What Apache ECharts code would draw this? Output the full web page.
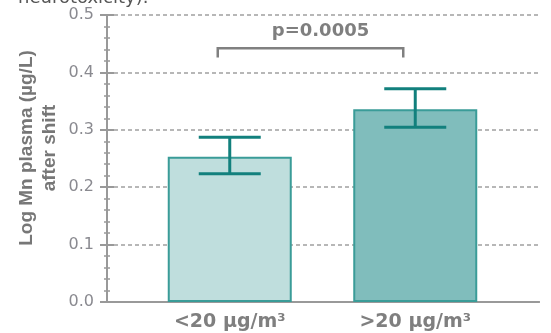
<!DOCTYPE html>
<html>
<head>
<meta charset="utf-8">
<script src="https://cdn.jsdelivr.net/npm/echarts@6/dist/echarts.min.js"></script>
<style>html,body{margin:0;padding:0;background:#fff;}#c{width:551px;height:333px;}</style>
</head>
<body>
<div id="c"></div>
<script>
var categories = ['<20 µg/m³', '>20 µg/m³'];
var means = [0.253, 0.336];
var errLow = [0.2235, 0.3045];
var errHigh = [0.287, 0.3715];
var barColors = ['#bfdedd', '#80bdbc'];
var yTicks = [0, 0.1, 0.2, 0.3, 0.4, 0.5];
var pText = 'p=0.0005';
var bracket = [0, 1, 0.442, 0.426]; // from cat, to cat, top value, leg end value
var pLabelValue = 0.472;
var yName = 'Log Mn plasma (µg/L)\nafter shift';
var topText = 'neurotoxicity).';

var chart = echarts.init(document.getElementById('c'), null, {renderer: 'canvas'});
var axisGray = '#999999';
var yMin = yTicks[0], yMax = yTicks[yTicks.length - 1];

var option = {
  animation: false,
  backgroundColor: '#ffffff',
  grid: [
    {left: 107, right: 12, top: 15, bottom: 31},
    {left: 137, right: 43, top: 15, bottom: 31}
  ],
  xAxis: [
    {gridIndex: 0, type: 'value', position: 'bottom', min: 0, max: 1,
      axisLine: {show: true, lineStyle: {color: axisGray, width: 2}},
      axisTick: {show: false}, axisLabel: {show: false}, splitLine: {show: false}},
    {gridIndex: 0, type: 'value', position: 'top', min: 0, max: 1,
      axisLine: {show: true, lineStyle: {color: axisGray, width: 2}},
      axisTick: {show: false}, axisLabel: {show: false}, splitLine: {show: false}},
    {gridIndex: 1, type: 'category', data: categories, position: 'bottom',
      axisLine: {show: false}, axisTick: {show: false},
      axisLabel: {show: true, margin: 11, color: '#7f7f7f', fontFamily: 'DejaVu Sans', fontWeight: 'bold', fontSize: 19}}
  ],
  yAxis: [
    {gridIndex: 0, type: 'value', position: 'left', min: yMin, max: yMax, interval: 0.1,
      axisLine: {show: true, lineStyle: {color: axisGray, width: 2}},
      axisTick: {show: true, length: 7, lineStyle: {color: axisGray, width: 2}},
      minorTick: {show: true, splitNumber: 5, length: 3, lineStyle: {color: axisGray, width: 1.5}},
      axisLabel: {margin: 13, color: '#8a8a90', fontFamily: 'DejaVu Sans', fontSize: 16,
        formatter: function (v) { return v.toFixed(1); }},
      splitLine: {show: true, lineStyle: {color: '#a0a0a0', type: [4, 3], width: 1.5}}},
    {gridIndex: 0, type: 'value', position: 'right', min: yMin, max: yMax, interval: 0.1,
      axisLine: {show: true, lineStyle: {color: axisGray, width: 2}},
      axisTick: {show: true, length: 7, lineStyle: {color: axisGray, width: 2}},
      minorTick: {show: true, splitNumber: 5, length: 3, lineStyle: {color: axisGray, width: 1.5}},
      axisLabel: {show: false}, splitLine: {show: false}},
    {gridIndex: 1, type: 'value', min: yMin, max: yMax, show: false}
  ],
  series: [
    {
      type: 'bar', xAxisIndex: 2, yAxisIndex: 2, barWidth: 124, z: 3,
      data: means.map(function (v, i) {
        return {value: v, itemStyle: {color: barColors[i], borderColor: '#3a9c98', borderWidth: 2}};
      })
    },
    {
      type: 'custom', xAxisIndex: 2, yAxisIndex: 2, z: 4,
      data: categories.map(function (c, i) { return [i, errLow[i], errHigh[i]]; }),
      renderItem: function (params, api) {
        var lo = api.coord([api.value(0), api.value(1)]);
        var hi = api.coord([api.value(0), api.value(2)]);
        var hw = 31;
        var st = {stroke: '#12807d', lineWidth: 3};
        return {type: 'group', children: [
          {type: 'line', shape: {x1: lo[0], y1: lo[1], x2: hi[0], y2: hi[1]}, style: st},
          {type: 'line', shape: {x1: lo[0] - hw, y1: lo[1], x2: lo[0] + hw, y2: lo[1]}, style: st},
          {type: 'line', shape: {x1: hi[0] - hw, y1: hi[1], x2: hi[0] + hw, y2: hi[1]}, style: st}
        ]};
      }
    },
    {
      type: 'custom', xAxisIndex: 2, yAxisIndex: 2, z: 4, clip: false,
      data: [bracket],
      renderItem: function (params, api) {
        var off = -12;
        var aTop = api.coord([api.value(0), api.value(2)]);
        var bTop = api.coord([api.value(1), api.value(2)]);
        var aLeg = api.coord([api.value(0), api.value(3)]);
        var bLeg = api.coord([api.value(1), api.value(3)]);
        var lab = api.coord([api.value(0), pLabelValue]);
        var midX = (aTop[0] + bTop[0]) / 2 - 2;
        return {type: 'group', children: [
          {type: 'polyline', shape: {points: [
            [aLeg[0] + off, aLeg[1]], [aTop[0] + off, aTop[1]],
            [bTop[0] + off, bTop[1]], [bLeg[0] + off, bLeg[1]]]},
            style: {stroke: '#808080', lineWidth: 2.5, fill: null}},
          {type: 'text', x: midX, y: lab[1],
            style: {text: pText, align: 'center', verticalAlign: 'middle',
              font: 'bold 18px "DejaVu Sans"', fill: '#7f7f7f'}}
        ]};
      }
    }
  ],
  graphic: [
    {type: 'text', x: 38, y: 148, rotation: Math.PI / 2,
      style: {text: yName, align: 'center', verticalAlign: 'middle', lineHeight: 23,
        font: 'bold 19px "Liberation Sans"', fill: '#777777'}},
    {type: 'text', x: 18, y: -2,
      style: {text: topText, align: 'left', verticalAlign: 'middle',
        font: '18px "DejaVu Sans"', fill: '#555555'}}
  ]
};
chart.setOption(option);
</script>
</body>
</html>
